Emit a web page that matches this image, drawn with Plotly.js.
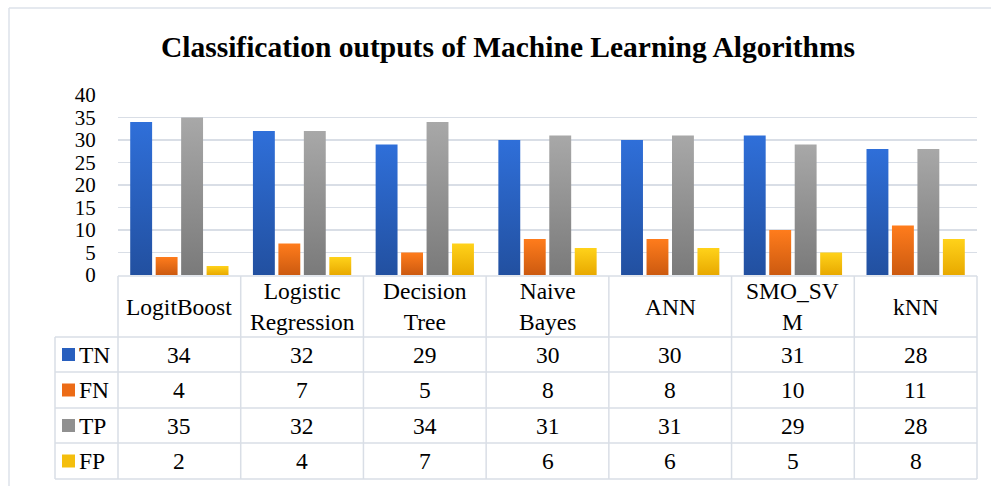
<!DOCTYPE html>
<html>
<head>
<meta charset="utf-8">
<script src="https://cdn.plot.ly/plotly-3.0.1.min.js"></script>
<style>
  html, body { margin: 0; padding: 0; background: #fff; }
  #chart { width: 991px; height: 486px; }
</style>
</head>
<body>
<div id="chart"></div>
<script>
// data
var algorithms = ['LogitBoost', 'Logistic Regression', 'Decision Tree', 'Naive Bayes', 'ANN', 'SMO_SVM', 'kNN'];
var headerLabels = ['LogitBoost', 'Logistic<br>Regression', 'Decision<br>Tree', 'Naive<br>Bayes', 'ANN', 'SMO_SV<br>M', 'kNN'];
var seriesNames = ['TN', 'FN', 'TP', 'FP'];
var tn = [34, 32, 29, 30, 30, 31, 28];
var fn = [4, 7, 5, 8, 8, 10, 11];
var tp = [35, 32, 34, 31, 31, 29, 28];
var fp = [2, 4, 7, 6, 6, 5, 8];
var yTicks = [0, 5, 10, 15, 20, 25, 30, 35, 40];

var seriesValues = [tn, fn, tp, fp];
// top / bottom colours of the gradient fill
var topColors = ['#2f6fd9', '#ff7c1c', '#a8a8a8', '#ffd21a'];
var bottomColors = ['#2250a0', '#cc5a10', '#7a7a7a', '#e8a900'];
var midColors = ['#285fbe', '#ec6b16', '#909090', '#f4be0d'];

// pixel geometry of the plot area
var W = 991, H = 486;
var L = 118, R = 977, T = 95, B = 275;
function px(x) { return (x - L) / (R - L); }
function py(y) { return (B - y) / (B - T); }

var serif = 'Liberation Serif, Times New Roman, serif';
var lineCol = '#d9dee6';
var cellFont = { family: serif, size: 23.5, color: '#000' };

var traces = seriesValues.map(function (vals, i) {
  return {
    type: 'bar',
    name: seriesNames[i],
    x: algorithms,
    y: vals,
    marker: { color: midColors[i] },
    hoverinfo: 'skip'
  };
});

// table rows (pixel y of the borders)
var headerTop = 276, rowEdges = [337, 372, 408, 443, 479];
var legendLeft = 55;
var shapes = [];
var annotations = [];

// horizontal lines
shapes.push({ type: 'line', xref: 'paper', yref: 'paper', x0: 0, x1: 1, y0: py(headerTop), y1: py(headerTop), line: { color: lineCol, width: 1.5 } });
rowEdges.forEach(function (e) {
  shapes.push({ type: 'line', xref: 'paper', yref: 'paper', x0: px(legendLeft), x1: 1, y0: py(e), y1: py(e), line: { color: lineCol, width: 1.5 } });
});
// vertical lines
for (var c = 0; c <= algorithms.length; c++) {
  shapes.push({ type: 'line', xref: 'paper', yref: 'paper', x0: c / algorithms.length, x1: c / algorithms.length, y0: py(headerTop), y1: py(rowEdges[4]), line: { color: lineCol, width: 1.5 } });
}
shapes.push({ type: 'line', xref: 'paper', yref: 'paper', x0: px(legendLeft), x1: px(legendLeft), y0: py(rowEdges[0]), y1: py(rowEdges[4]), line: { color: lineCol, width: 1.5 } });

// outer frame
shapes.push({ type: 'line', xref: 'paper', yref: 'paper', x0: px(9), x1: px(W), y0: py(8), y1: py(8), line: { color: '#dde2ea', width: 1.5 } });
shapes.push({ type: 'line', xref: 'paper', yref: 'paper', x0: px(9), x1: px(9), y0: py(8), y1: py(H), line: { color: '#dde2ea', width: 1.5 } });

// header cells
headerLabels.forEach(function (lab, i) {
  annotations.push({
    xref: 'x', yref: 'paper', x: algorithms[i], y: py((headerTop + rowEdges[0]) / 2),
    text: lab, showarrow: false, font: cellFont,
    xanchor: 'center', yanchor: 'middle'
  });
});

// value rows + legend keys
seriesValues.forEach(function (vals, r) {
  var yc = (rowEdges[r] + rowEdges[r + 1]) / 2;
  vals.forEach(function (v, i) {
    annotations.push({
      xref: 'x', yref: 'paper', x: algorithms[i], y: py(yc),
      text: String(v), showarrow: false, font: cellFont,
      xanchor: 'center', yanchor: 'middle'
    });
  });
  shapes.push({
    type: 'rect', xref: 'paper', yref: 'paper',
    x0: px(62), x1: px(75), y0: py(yc - 6.5), y1: py(yc + 6.5),
    fillcolor: midColors[r], line: { width: 0 }
  });
  annotations.push({
    xref: 'paper', yref: 'paper', x: px(77), y: py(yc),
    text: seriesNames[r], showarrow: false, font: cellFont,
    xanchor: 'left', yanchor: 'middle'
  });
});

var layout = {
  width: W, height: H,
  margin: { l: L, r: W - R, t: T, b: H - B, pad: 0 },
  paper_bgcolor: '#fff', plot_bgcolor: '#fff',
  title: {
    text: '<b>Classification outputs of Machine Learning Algorithms</b>',
    font: { family: serif, size: 29.5, color: '#000' },
    x: 508 / W, xanchor: 'center', y: 1 - 47 / H, yanchor: 'middle'
  },
  showlegend: false,
  barmode: 'group',
  bargap: 0.17,
  bargroupgap: 0.14,
  xaxis: {
    type: 'category', showticklabels: false, showgrid: false, zeroline: false,
    showline: false, ticks: '', fixedrange: true
  },
  yaxis: {
    range: [0, 40], tickvals: yTicks, ticktext: yTicks.map(String),
    showgrid: true, gridcolor: lineCol, gridwidth: 1.5,
    zeroline: false, showline: false,
    ticks: 'outside', ticklen: 17, tickcolor: 'rgba(0,0,0,0)',
    tickfont: { family: serif, size: 21, color: '#000' }, fixedrange: true
  },
  shapes: shapes,
  annotations: annotations
};

Plotly.newPlot('chart', traces, layout, { displayModeBar: false, staticPlot: true }).then(function (gd) {
  // give the bars Excel-like vertical gradients
  var svg = gd.querySelector('svg.main-svg');
  var defs = svg.querySelector('defs');
  var ns = 'http://www.w3.org/2000/svg';
  topColors.forEach(function (tc, i) {
    var g = document.createElementNS(ns, 'linearGradient');
    g.setAttribute('id', 'bargrad' + i);
    g.setAttribute('x1', '0'); g.setAttribute('y1', '0');
    g.setAttribute('x2', '0'); g.setAttribute('y2', '1');
    [[0, tc], [1, bottomColors[i]]].forEach(function (s) {
      var st = document.createElementNS(ns, 'stop');
      st.setAttribute('offset', s[0]);
      st.setAttribute('stop-color', s[1]);
      g.appendChild(st);
    });
    defs.appendChild(g);
  });
  var groups = gd.querySelectorAll('.barlayer .trace.bars');
  groups.forEach(function (grp, i) {
    grp.querySelectorAll('path').forEach(function (p) {
      p.style.fill = 'url(#bargrad' + i + ')';
    });
  });
});
</script>
</body>
</html>
